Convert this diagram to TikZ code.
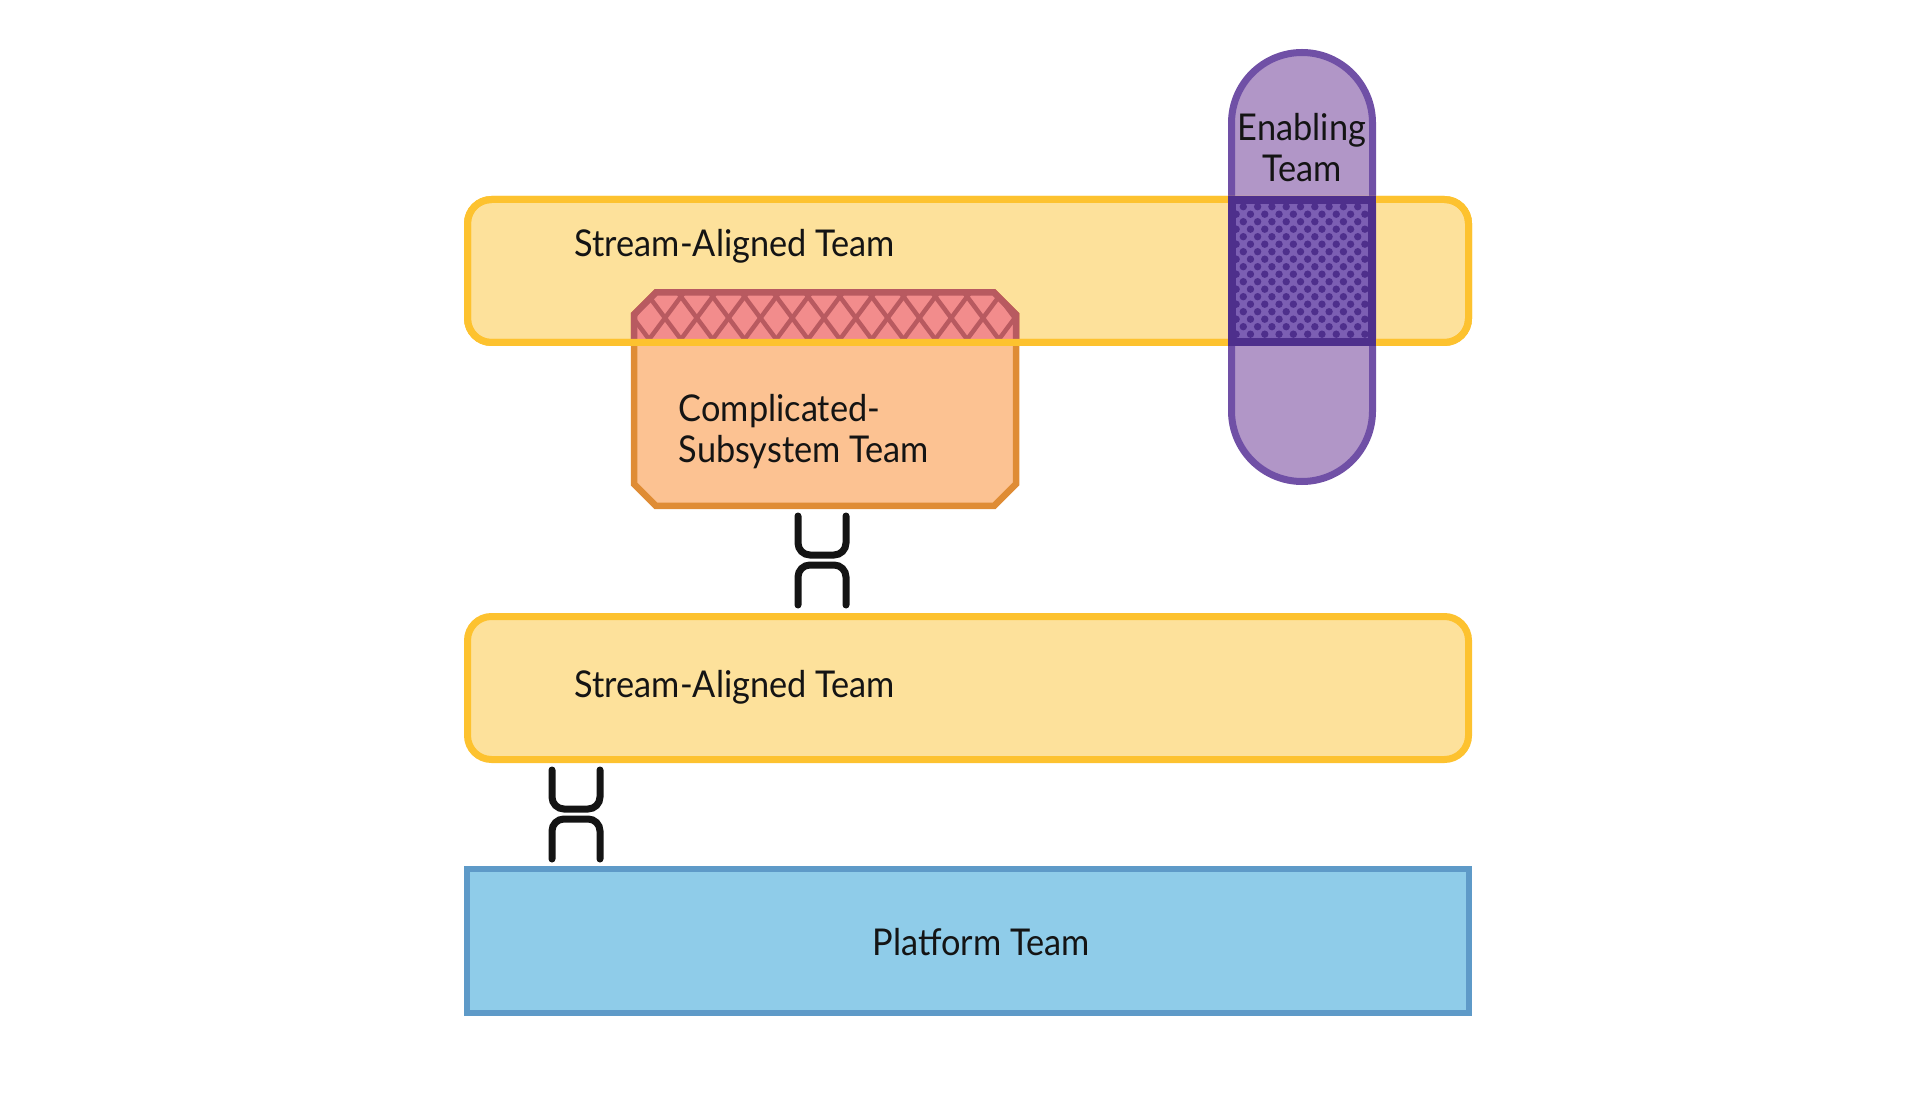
\documentclass[tikz,border=0pt]{standalone}
\usepackage{fontspec}
\setmainfont{Lato}[FakeStretch=0.93]
\usepackage{tikz}
\definecolor{SaFill}{HTML}{FDE19B}
\definecolor{SaLine}{HTML}{FDC22F}
\definecolor{CsFill}{HTML}{FCC292}
\definecolor{CsLine}{HTML}{DF8C35}
\definecolor{PinkFill}{HTML}{F28C8C}
\definecolor{PinkLine}{HTML}{B85A60}
\definecolor{EnFill}{HTML}{B196C7}
\definecolor{EnLine}{HTML}{7050A6}
\definecolor{OvFill}{HTML}{7C5FB3}
\definecolor{OvLine}{HTML}{4E2F8C}
\definecolor{PfFill}{HTML}{8FCCE9}
\definecolor{PfLine}{HTML}{5E9AC8}
\definecolor{Ink}{HTML}{141414}
\pgfdeclarelayer{edgelayer}
\pgfdeclarelayer{nodelayer}
\pgfsetlayers{edgelayer,nodelayer,main}
\tikzstyle{none}=[inner sep=0pt]
\tikzstyle{sa}=[rectangle,rounded corners=0.24cm,fill=SaFill,draw=SaLine,line width=0.07cm,minimum width=10.01cm,minimum height=1.43cm,inner sep=0pt]
\tikzstyle{saedge}=[sa,fill=none]
\tikzstyle{cs}=[fill=CsFill,draw=CsLine,line width=0.065cm]
\tikzstyle{en}=[rectangle,rounded corners=0.705cm,fill=EnFill,draw=EnLine,line width=0.07cm,minimum width=1.41cm,minimum height=4.29cm,inner sep=0pt]
\tikzstyle{pf}=[rectangle,fill=PfFill,draw=PfLine,line width=0.06cm,minimum width=10.02cm,minimum height=1.44cm,inner sep=0pt]
\tikzstyle{ov}=[rectangle,fill=OvFill,draw=OvLine,line width=0.08cm,minimum width=1.40cm,minimum height=1.42cm,inner sep=0pt]
\tikzstyle{ovedge}=[ov,fill=none]
\tikzstyle{lbl}=[inner sep=0pt,text=Ink,font=\fontsize{10.5}{11.9}\selectfont]
\tikzstyle{simple}=[-,draw=Ink,line width=0.07cm,line cap=round,rounded corners=0.12cm]
\tikzstyle{lattice}=[-,draw=PinkLine,line width=0.045cm]
\begin{document}
\begin{tikzpicture}
	\useasboundingbox (0,0) rectangle (19.2,11.05);
	\begin{pgfonlayer}{nodelayer}
		\node [style=sa] (sa1) at (9.68, 8.34) {};
		\node [style=sa] (sa2) at (9.68, 4.17) {};
		\node [style=pf] (pf) at (9.68, 1.645) {};
		\draw [style=cs] (6.34, 5.99+0.22) -- (6.34, 7.905) -- (6.56, 8.125) -- (9.94, 8.125) -- (10.16, 7.905) -- (10.16, 6.21) -- (9.94, 5.99) -- (6.56, 5.99) -- cycle;
		\node [style=en] (en) at (13.02, 8.38) {};
		\node [style=lbl,anchor=base west] (l1) at (5.74, 8.48) {Stream-Aligned Team};
		\node [style=lbl,anchor=base west] (l2) at (5.74, 4.08) {Stream-Aligned Team};
		\node [style=lbl,anchor=base west] (l3) at (8.72, 1.50) {Platform Team};
		\node [style=lbl,anchor=west,align=left] (l4) at (6.78, 6.735) {Complicated-\\Subsystem Team};
		\node [style=lbl,align=center] (l5) at (13.02, 9.575) {Enabling\\Team};
		\node [style=none] (u0) at (7.98, 5.89) {};
		\node [style=none] (u1) at (7.98, 5.50) {};
		\node [style=none] (u2) at (8.46, 5.50) {};
		\node [style=none] (u3) at (8.46, 5.89) {};
		\node [style=none] (n0) at (7.98, 5.00) {};
		\node [style=none] (n1) at (7.98, 5.40) {};
		\node [style=none] (n2) at (8.46, 5.40) {};
		\node [style=none] (n3) at (8.46, 5.00) {};
		\node [style=none] (u4) at (5.52, 3.35) {};
		\node [style=none] (u5) at (5.52, 2.96) {};
		\node [style=none] (u6) at (6.00, 2.96) {};
		\node [style=none] (u7) at (6.00, 3.35) {};
		\node [style=none] (n4) at (5.52, 2.46) {};
		\node [style=none] (n5) at (5.52, 2.86) {};
		\node [style=none] (n6) at (6.00, 2.86) {};
		\node [style=none] (n7) at (6.00, 2.46) {};
	\end{pgfonlayer}
	\begin{pgfonlayer}{edgelayer}
		\draw [style=simple] (u0.center) -- (u1.center) -- (u2.center) -- (u3.center);
		\draw [style=simple] (n0.center) -- (n1.center) -- (n2.center) -- (n3.center);
		\draw [style=simple] (u4.center) -- (u5.center) -- (u6.center) -- (u7.center);
		\draw [style=simple] (n4.center) -- (n5.center) -- (n6.center) -- (n7.center);
	\end{pgfonlayer}
	% overlap of the two top boxes
	\begin{scope}
		\clip (6, 7.63) rectangle (10.5, 8.3);
		\fill [PinkFill] (6.34, 7.5) -- (6.34, 7.905) -- (6.56, 8.125) -- (9.94, 8.125) -- (10.16, 7.905) -- (10.16, 7.5) -- cycle;
		\begin{scope}
			\clip (6.34, 7.5) -- (6.34, 7.905) -- (6.56, 8.125) -- (9.94, 8.125) -- (10.16, 7.905) -- (10.16, 7.5) -- cycle;
			\foreach \k in {-2,...,14} {
				\draw [style=lattice] (6.65+0.318*\k-0.484, 7.87+0.65) -- (6.65+0.318*\k+0.484, 7.87-0.65);
				\draw [style=lattice] (6.65+0.318*\k-0.484, 7.87-0.65) -- (6.65+0.318*\k+0.484, 7.87+0.65);
			}
		\end{scope}
		\draw [draw=PinkLine,line width=0.065cm] (6.34, 7.5) -- (6.34, 7.905) -- (6.56, 8.125) -- (9.94, 8.125) -- (10.16, 7.905) -- (10.16, 7.5);
	\end{scope}
	\node [style=saedge] (sa1b) at (9.68, 8.34) {};
	\node [style=ov] (ov) at (13.02, 8.34) {};
	\begin{scope}
		\clip (12.36, 7.67) rectangle (13.69, 9.01);
		\foreach \j in {0,...,18} {
			\pgfmathsetmacro{\rowx}{12.433-0.0715*mod(\j,2)}
			\pgfmathsetmacro{\rowy}{8.983-0.075*\j}
			\foreach \i in {-1,...,10} {
				\fill [OvLine] (\rowx+0.143*\i, \rowy) circle (0.037);
			}
		}
	\end{scope}
	\node [style=ovedge] (ovb) at (13.02, 8.34) {};
\end{tikzpicture}
\end{document}
